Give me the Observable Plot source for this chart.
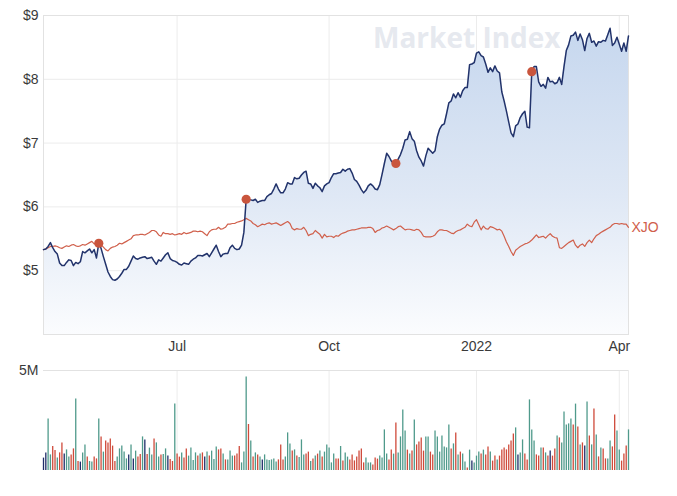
<!DOCTYPE html>
<html>
<head>
<meta charset="utf-8">
<script src="https://cdn.jsdelivr.net/npm/d3@7"></script>
<script src="https://cdn.jsdelivr.net/npm/@observablehq/plot@0.6"></script>
<style>
  body { margin: 0; background: #fff; font-family: "Liberation Sans", Arial, sans-serif; }
  #chart svg { display: block; }
</style>
</head>
<body>
<div id="chart"></div>
<script>
// Share price ($), one value per trading day, Apr 2021 – Apr 2022
const price = [
  5.33,5.34,5.38,5.44,5.36,5.30,5.26,5.12,5.08,5.08,
  5.13,5.17,5.16,5.08,5.13,5.11,5.14,5.30,5.28,5.31,
  5.34,5.28,5.33,5.20,5.43,5.35,5.22,5.10,4.98,4.91,
  4.86,4.85,4.87,4.91,4.96,5.02,5.02,5.07,5.15,5.23,
  5.19,5.18,5.20,5.21,5.22,5.19,5.20,5.21,5.15,5.10,5.17,
  5.15,5.20,5.25,5.28,5.19,5.16,5.15,5.13,5.10,5.09,
  5.12,5.11,5.10,5.15,5.18,5.20,5.24,5.24,5.23,5.25,
  5.27,5.22,5.28,5.34,5.40,5.30,5.22,5.26,5.27,5.27,
  5.36,5.40,5.35,5.33,5.34,5.40,5.60,6.12,6.12,6.11,
  6.10,6.12,6.07,6.09,6.10,6.10,6.16,6.19,6.21,6.28,
  6.36,6.28,6.22,6.22,6.28,6.38,6.36,6.36,6.46,6.44,
  6.45,6.50,6.54,6.56,6.37,6.36,6.29,6.37,6.33,6.30,
  6.24,6.33,6.36,6.38,6.46,6.52,6.52,6.53,6.54,6.59,6.56,
  6.59,6.60,6.53,6.43,6.40,6.34,6.27,6.22,6.26,6.33,
  6.36,6.33,6.28,6.27,6.35,6.51,6.68,6.84,6.79,6.72,
  6.68,6.68,6.75,6.82,6.92,7.05,7.06,7.18,7.07,7.03,
  6.88,6.78,6.72,6.64,6.80,6.92,6.88,6.84,6.88,7.10,
  7.22,7.28,7.30,7.46,7.63,7.66,7.77,7.71,7.79,7.72,
  7.82,7.87,7.87,8.23,8.24,8.26,8.41,8.43,8.37,8.35,
  8.24,8.11,8.18,8.12,8.21,8.13,8.10,7.80,7.66,7.50,
  7.33,7.16,7.10,7.27,7.30,7.40,7.46,7.50,7.25,7.24,8.12,
  8.20,8.20,7.96,7.89,7.92,7.86,8.03,7.96,7.97,7.93,
  7.95,8.03,7.92,8.20,8.45,8.54,8.68,8.69,8.74,8.61,
  8.71,8.62,8.45,8.64,8.72,8.58,8.60,8.52,8.59,8.58,
  8.61,8.60,8.70,8.80,8.53,8.57,8.66,8.55,8.44,8.57,
  8.44,8.68
];

// XJO (ASX 200) rebased to the share price scale
const xjo = [
  5.33,5.34,5.36,5.38,5.38,5.39,5.38,5.36,5.35,5.37,
  5.39,5.38,5.40,5.41,5.39,5.38,5.39,5.41,5.40,5.42,
  5.44,5.46,5.42,5.44,5.42,5.41,5.37,5.33,5.31,5.35,
  5.37,5.38,5.40,5.43,5.42,5.44,5.46,5.48,5.50,5.55,
  5.56,5.56,5.57,5.57,5.56,5.58,5.60,5.63,5.63,5.61,5.56,
  5.54,5.60,5.58,5.58,5.57,5.58,5.56,5.57,5.58,5.57,
  5.60,5.58,5.59,5.60,5.62,5.62,5.61,5.62,5.61,5.58,
  5.55,5.61,5.64,5.65,5.65,5.68,5.65,5.66,5.68,5.73,
  5.73,5.74,5.74,5.76,5.77,5.78,5.80,5.82,5.80,5.78,
  5.74,5.72,5.69,5.71,5.73,5.72,5.74,5.75,5.73,5.74,
  5.75,5.73,5.71,5.73,5.75,5.77,5.74,5.66,5.64,5.66,
  5.65,5.65,5.68,5.63,5.55,5.57,5.58,5.63,5.60,5.57,
  5.51,5.57,5.53,5.54,5.54,5.52,5.55,5.54,5.57,5.59,5.60,
  5.62,5.63,5.64,5.64,5.65,5.66,5.67,5.67,5.67,5.68,
  5.68,5.66,5.60,5.63,5.64,5.67,5.68,5.70,5.68,5.66,
  5.64,5.66,5.69,5.70,5.67,5.64,5.65,5.65,5.64,5.63,
  5.65,5.64,5.60,5.54,5.53,5.53,5.53,5.54,5.56,5.61,
  5.64,5.64,5.63,5.63,5.61,5.59,5.58,5.61,5.63,5.64,
  5.66,5.68,5.73,5.70,5.69,5.76,5.80,5.72,5.64,5.70,
  5.66,5.65,5.69,5.68,5.66,5.64,5.65,5.62,5.54,5.45,
  5.38,5.30,5.24,5.32,5.35,5.38,5.40,5.42,5.43,5.45,5.48,
  5.52,5.56,5.52,5.53,5.54,5.51,5.55,5.58,5.54,5.52,
  5.51,5.36,5.35,5.38,5.41,5.44,5.46,5.48,5.40,5.36,
  5.40,5.42,5.38,5.44,5.48,5.44,5.50,5.55,5.57,5.60,
  5.62,5.64,5.66,5.68,5.72,5.74,5.74,5.73,5.74,5.73,
  5.73,5.68
];

// Daily volume (millions of shares)
const volume = [
  0.62,0.88,2.58,0.78,1.20,1.00,0.62,0.88,1.38,0.83,
  1.03,0.67,0.78,1.08,3.58,0.45,0.42,0.88,1.28,0.67,
  0.45,0.42,0.67,0.58,2.58,1.68,0.92,1.47,1.37,1.58,
  1.22,0.45,0.67,1.08,1.22,0.92,0.58,0.78,1.28,0.58,
  0.97,0.67,0.80,1.68,1.52,0.80,1.12,0.78,1.58,1.38,
  0.67,0.78,0.80,1.08,0.72,0.55,0.45,3.33,0.83,0.67,
  0.88,0.62,1.08,0.72,1.13,0.50,0.88,0.72,0.83,0.88,
  0.67,0.92,0.72,0.97,0.55,1.17,1.03,1.08,0.82,0.53,
  0.53,0.97,0.72,0.72,0.82,1.20,0.38,0.92,4.67,2.30,
  1.47,0.67,0.88,0.78,0.67,0.53,0.78,0.53,0.50,0.53,
  0.58,0.42,0.53,1.28,0.53,0.67,1.88,1.33,0.97,1.03,
  0.72,0.65,1.53,0.78,0.82,0.92,0.45,0.58,0.72,0.82,
  0.97,0.67,0.92,1.28,1.13,
  0.38,0.82,0.58,0.58,1.20,0.48,0.88,0.67,0.53,0.78,
  0.48,0.67,0.97,1.07,0.38,0.63,0.38,0.38,0.28,0.63,
  0.57,0.72,0.63,2.03,0.82,0.52,1.03,0.82,2.38,0.88,
  1.68,3.03,1.98,1.02,0.82,0.97,2.53,1.28,1.43,1.63,
  0.97,1.68,1.68,0.92,0.78,1.98,1.68,0.92,1.73,1.17,
  1.13,2.28,1.07,1.33,1.88,0.78,0.92,0.82,0.42,0.13,
  1.02,0.47,0.37,0.72,0.92,0.82,1.02,0.78,1.17,0.92,
  0.47,0.72,0.52,0.72,1.03,1.12,1.03,1.28,1.48,1.83,
  2.13,0.77,0.87,1.53,0.82,0.52,3.53,2.03,1.47,0.78,
  0.72,1.13,1.13,0.88,0.72,0.97,0.72,1.07,1.73,1.63,
  1.37,2.92,2.28,2.33,2.58,2.28,3.32,2.18,1.28,1.38,
  1.23,3.43,1.73,1.28,3.08,1.78,0.68,1.13,1.07,0.58,
  0.58,1.47,1.18,2.78,1.98,1.02,0.47,0.83,1.23,2.03
];
// bar colour per day: g = up, r = down, n = unchanged
const volumeKind = (
  "nnggrrgrrn" + "ggrrgrnggr" + "ggrrgrgrrr" + "rrgggggngn" + "grrgnrggrg" +
  "grggnrrgrr" + "grrggggrgr" + "ngrgggrrgr" + "gggrrrgggr" + "grgrgngggg" +
  "ggrrrgggrg" + "rgggrrgrgr" + "grggg" +
  "ggrrgrggrr" + "rrrrrgggrr" + "rggggrrgrg" + "gggrgrgrrr" + "rggrrggggg" +
  "ggrgrgrggr" + "gngggrgrrg" + "rrgrrrrrrr" + "gnggrrgggr" + "rgrgrnrrgr" +
  "gggggrgrgr" + "ngrgrgrgrr" + "ggrrggrrrg"
).split("");

// Event markers (trading-day index)
const events = [24, 88, 153, 212];

// X ticks (trading-day index) and labels
const tickIdx = [58, 124, 188, 250];
const tickLabels = ["Jul", "Oct", "2022", "Apr"];
const yTicks = [5, 6, 7, 8, 9];
const volTicks = [5];

const N = price.length;
const rows = price.map((p, i) => ({i, price: p, xjo: xjo[i]}));
const volRows = volume.map((v, i) => ({i, v, k: volumeKind[i]}));
const kindColor = {g: "#4f9a8b", r: "#cf4a3a", n: "#1f2d69"};
const labelOf = new Map(tickIdx.map((t, j) => [t, tickLabels[j]]));

const FONT = "'Liberation Sans', Arial, sans-serif";
const gridColor = "#ececec";

const gradient = () => {
  const defs = d3.create("svg:defs");
  const g = defs.append("linearGradient").attr("id", "pg")
    .attr("x1", 0).attr("x2", 0).attr("y1", 0).attr("y2", 1);
  g.append("stop").attr("offset", "0%").attr("stop-color", "#c6d7ee");
  g.append("stop").attr("offset", "55%").attr("stop-color", "#dfe8f5");
  g.append("stop").attr("offset", "100%").attr("stop-color", "#fbfcfe");
  return defs.node();
};

const topChart = Plot.plot({
  width: 677,
  height: 360,
  marginTop: 15,
  marginLeft: 43,
  marginRight: 49,
  marginBottom: 26,
  style: {fontFamily: FONT, fontSize: "14px", color: "#3a3a3a", background: "transparent", overflow: "visible"},
  x: {type: "linear", domain: [0, N - 1], ticks: tickIdx, tickFormat: d => labelOf.get(d), tickSize: 0, tickPadding: 7, label: null},
  y: {domain: [4, 9], ticks: yTicks, tickFormat: d => "$" + d, tickSize: 0, tickPadding: 5, label: null},
  marks: [
    gradient,
    Plot.gridX(tickIdx, {stroke: gridColor, strokeOpacity: 1}),
    Plot.gridY(yTicks, {stroke: gridColor, strokeOpacity: 1}),
    Plot.areaY(rows, {x: "i", y1: 4, y2: "price", fill: "url(#pg)"}),
    Plot.frame({stroke: "#e2e2e2"}),
    Plot.text(["Market Index"], {frameAnchor: "top-right", dx: -68, dy: 24, textAnchor: "end", lineAnchor: "middle",
      fontSize: 28, fontWeight: "bold", fontFamily: "'Open Sans', sans-serif", fill: "#e3e6ed", fillOpacity: 0.9}),
    Plot.lineY(rows, {x: "i", y: "xjo", stroke: "#d0604c", strokeWidth: 1.2}),
    Plot.lineY(rows, {x: "i", y: "price", stroke: "#22336b", strokeWidth: 1.5}),
    Plot.dot(events, {x: d => d, y: d => price[d], r: 4.6, fill: "#c9553d"}),
    Plot.text([N - 1], {x: d => d, y: d => xjo[d], text: () => "XJO", textAnchor: "start", dx: 3,
      fill: "#d0604c", fontSize: 14, fontFamily: FONT})
  ]
});

const volChart = Plot.plot({
  width: 677,
  height: 116,
  marginTop: 10,
  marginLeft: 43,
  marginRight: 49,
  marginBottom: 6,
  style: {fontFamily: FONT, fontSize: "14px", color: "#3a3a3a", background: "transparent"},
  x: {type: "linear", domain: [0, N - 1], axis: null},
  y: {domain: [0, 5], ticks: volTicks, tickFormat: d => d + "M", tickSize: 0, tickPadding: 5, label: null},
  marks: [
    Plot.gridX(tickIdx.concat([N - 1]), {stroke: gridColor, strokeOpacity: 1}),
    Plot.gridY(volTicks, {stroke: "#e2e2e2", strokeOpacity: 1}),
    Plot.ruleX(volRows, {x: "i", y1: 0, y2: "v", stroke: d => kindColor[d.k], strokeWidth: 1.3})
  ]
});

const root = document.getElementById("chart");
root.append(topChart, volChart);
</script>
</body>
</html>
